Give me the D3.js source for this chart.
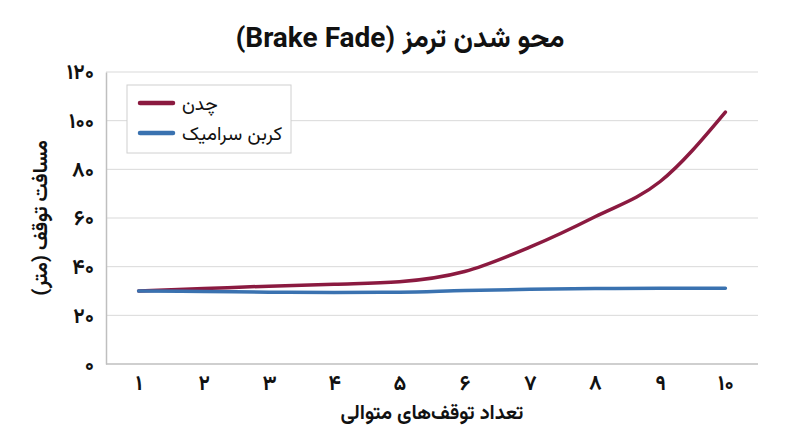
<!DOCTYPE html>
<html>
<head>
<meta charset="utf-8">
<script src="https://cdn.jsdelivr.net/npm/d3@7"></script>
<style>
  body { margin: 0; background: #fff; }
  svg { display: block; }
  text { font-family: "Vazirmatn", "Noto Sans Arabic", Roboto, "DejaVu Sans", sans-serif; }
</style>
</head>
<body>
<svg id="chart"></svg>
<script>
// Data
const stops = [1, 2, 3, 4, 5, 6, 7, 8, 9, 10];
const castIron = [30, 31, 32, 32.8, 33.8, 38, 48, 60.5, 75, 103.5];
const carbonCeramic = [30, 29.8, 29.5, 29.4, 29.5, 30.2, 30.7, 31, 31.1, 31.1];
const yTicks = [0, 20, 40, 60, 80, 100, 120];
const seriesNames = ["چدن", "کربن سرامیک"];
const seriesColors = ["#8b1a40", "#3a72b0"];

const width = 800;
const height = 447;
const margin = { top: 72, right: 42, bottom: 83, left: 106 };

// western digits -> persian digits
const fa = d => String(d).replace(/\d/g, c => "۰۱۲۳۴۵۶۷۸۹"[c]);

const svg = d3.select("#chart")
    .attr("width", width)
    .attr("height", height);

const x = d3.scalePoint()
    .domain(stops)
    .range([margin.left, width - margin.right])
    .padding(0.5);

const y = d3.scaleLinear()
    .domain([0, 120])
    .range([height - margin.bottom, margin.top]);

// gridlines
svg.append("g")
    .selectAll("line")
    .data(yTicks.filter(d => d > 0))
    .join("line")
    .attr("x1", margin.left)
    .attr("x2", width - margin.right)
    .attr("y1", d => y(d))
    .attr("y2", d => y(d))
    .attr("stroke", "#d9d9d9")
    .attr("stroke-width", 1);

// y axis
const yAxis = svg.append("g")
    .attr("transform", `translate(${margin.left},0)`)
    .call(d3.axisLeft(y).tickValues(yTicks).tickSize(0).tickPadding(12).tickFormat(fa));
yAxis.select(".domain").attr("stroke", "#bfbfbf").attr("stroke-width", 1.5);
yAxis.selectAll("text")
    .attr("font-size", 21)
    .attr("font-weight", "bold")
    .attr("fill", "#111");

// x axis
const xAxis = svg.append("g")
    .attr("transform", `translate(0,${height - margin.bottom})`)
    .call(d3.axisBottom(x).tickSize(0).tickPadding(11).tickFormat(fa));
xAxis.select(".domain").attr("stroke", "#bfbfbf").attr("stroke-width", 1.5)
    .attr("d", `M${margin.left},0H${width - margin.right}`);
xAxis.selectAll("text")
    .attr("font-size", 21)
    .attr("font-weight", "bold")
    .attr("fill", "#111");

// lines
const line = d3.line()
    .x((d, i) => x(stops[i]))
    .y(d => y(d))
    .curve(d3.curveMonotoneX);

[castIron, carbonCeramic].forEach((values, i) => {
  svg.append("path")
      .datum(values)
      .attr("fill", "none")
      .attr("stroke", seriesColors[i])
      .attr("stroke-width", 3.5)
      .attr("stroke-linecap", "round")
      .attr("stroke-linejoin", "round")
      .attr("d", line);
});

// legend
const legend = svg.append("g").attr("transform", "translate(127,85)");
legend.append("rect")
    .attr("width", 164)
    .attr("height", 68)
    .attr("fill", "#fff")
    .attr("stroke", "#d0d0d0");
seriesNames.forEach((name, i) => {
  const ly = 18 + i * 30;
  legend.append("line")
      .attr("x1", 13).attr("x2", 46)
      .attr("y1", ly).attr("y2", ly)
      .attr("stroke", seriesColors[i])
      .attr("stroke-width", 4.5)
      .attr("stroke-linecap", "round");
  legend.append("text")
      .attr("x", 55)
      .attr("y", ly + 7)
      .attr("font-size", 19)
      .attr("fill", "#111")
      .text(name);
});

// title
svg.append("text")
    .attr("x", width / 2)
    .attr("y", 47)
    .attr("text-anchor", "middle")
    .attr("direction", "rtl")
    .attr("font-size", 28)
    .attr("font-weight", "bold")
    .attr("fill", "#111")
    .text("محو شدن ترمز (Brake Fade)");

// axis titles
svg.append("text")
    .attr("x", (margin.left + width - margin.right) / 2)
    .attr("y", 419)
    .attr("text-anchor", "middle")
    .attr("direction", "rtl")
    .attr("font-size", 20)
    .attr("font-weight", "bold")
    .attr("fill", "#111")
    .text("تعداد توقف‌های متوالی");

svg.append("text")
    .attr("transform", `translate(47,${(margin.top + height - margin.bottom) / 2}) rotate(-90)`)
    .attr("text-anchor", "middle")
    .attr("direction", "rtl")
    .attr("font-size", 20)
    .attr("font-weight", "bold")
    .attr("fill", "#111")
    .text("مسافت توقف (متر)");
</script>
</body>
</html>
